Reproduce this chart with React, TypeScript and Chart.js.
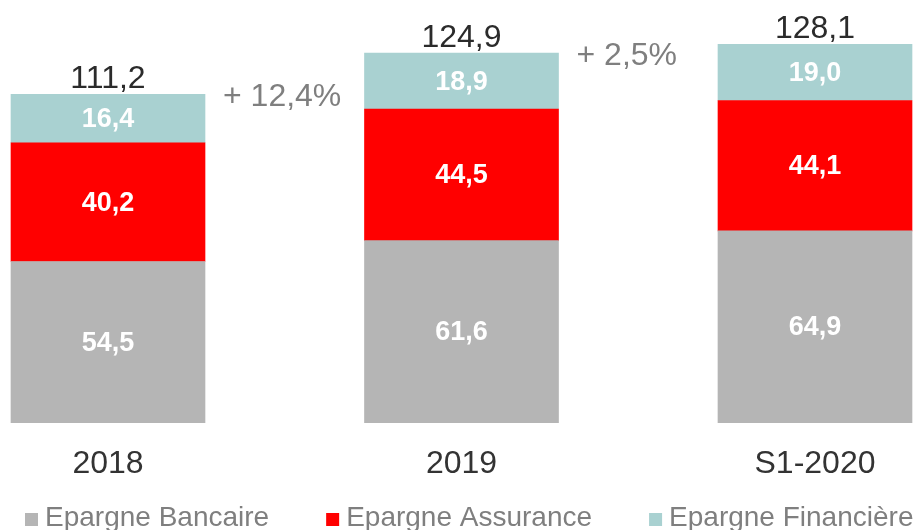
import React, { useEffect, useRef } from "react";
import { Chart, registerables } from "chart.js";

Chart.register(...registerables);

const categories = ["2018", "2019", "S1-2020"];
const bancaire = [54.5, 61.6, 64.9];
const assurance = [40.2, 44.5, 44.1];
const financiere = [16.4, 18.9, 19.0];
const totals = ["111,2", "124,9", "128,1"];
const growth = ["+ 12,4%", "+ 2,5%"];
const seriesNames = ["Epargne Bancaire", "Epargne Assurance", "Epargne Financière"];
const seriesColors = ["#b5b5b5", "#ff0000", "#a9d1d1"];

const FONT = "'Liberation Sans', Arial, sans-serif";

const fmt = (v: number) => v.toFixed(1).replace(".", ",");

const labelsPlugin = {
  id: "customLabels",
  afterDatasetsDraw(chart: any) {
    const ctx = chart.ctx;
    ctx.save();
    // segment values
    ctx.textAlign = "center";
    ctx.textBaseline = "middle";
    ctx.font = `bold 27px ${FONT}`;
    ctx.fillStyle = "#ffffff";
    chart.data.datasets.forEach((ds: any, i: number) => {
      const meta = chart.getDatasetMeta(i);
      meta.data.forEach((el: any, j: number) => {
        const cy = (el.y + el.base) / 2 + 1;
        ctx.fillText(fmt(ds.data[j]), el.x, cy);
      });
    });
    // totals
    const topMeta = chart.getDatasetMeta(chart.data.datasets.length - 1);
    ctx.font = `32px ${FONT}`;
    ctx.fillStyle = "#2b2b2b";
    ctx.textBaseline = "alphabetic";
    topMeta.data.forEach((el: any, j: number) => {
      ctx.fillText(totals[j], el.x, el.y - 6);
    });
    // growth
    ctx.fillStyle = "#7f7f7f";
    ctx.textAlign = "left";
    growth.forEach((g, j) => {
      const el = topMeta.data[j];
      const right = el.x + el.width / 2;
      ctx.fillText(g, right + 18, el.y + 12);
    });
    ctx.restore();
  },
  afterDraw(chart: any) {
    const ctx = chart.ctx;
    ctx.save();
    ctx.font = `28px ${FONT}`;
    ctx.textBaseline = "alphabetic";
    ctx.textAlign = "left";
    const box = 13;
    const gapText = 7;
    const gapItem = 57;
    const baseline = chart.height - 4;
    let x = 25;
    chart.data.datasets.forEach((ds: any) => {
      ctx.fillStyle = ds.backgroundColor;
      ctx.fillRect(x, baseline - box, box, box);
      x += box + gapText;
      ctx.fillStyle = "#7f7f7f";
      ctx.fillText(ds.label, x, baseline);
      x += ctx.measureText(ds.label).width + gapItem;
    });
    ctx.restore();
  },
};

export default function App() {
  const ref = useRef<HTMLCanvasElement | null>(null);
  useEffect(() => {
    if (!ref.current) return;
    const data = [bancaire, assurance, financiere];
    const chart = new Chart(ref.current, {
      type: "bar",
      data: {
        labels: categories,
        datasets: data.map((d, i) => ({
          label: seriesNames[i],
          data: d,
          backgroundColor: seriesColors[i],
          borderWidth: 0,
          barThickness: 194,
          clip: false,
        })) as any,
      },
      options: {
        responsive: false,
        animation: false,
        layout: { padding: { left: 108, right: 99, top: 0, bottom: 25 } },
        plugins: {
          legend: { display: false },
          tooltip: { enabled: false },
        },
        scales: {
          x: {
            type: "category",
            stacked: true,
            offset: false,
            grid: { display: false, drawTicks: false },
            border: { display: false },
            ticks: {
              color: "#333333",
              font: { family: FONT, size: 32 },
              padding: 22,
              maxRotation: 0,
              autoSkip: false,
            },
          },
          y: {
            display: false,
            stacked: true,
            min: 0,
            max: 143,
          },
        },
      } as any,
      plugins: [labelsPlugin],
    });
    return () => chart.destroy();
  }, []);
  return (
    <div style={{ position: "fixed", left: 0, top: 0, width: 914, height: 530, background: "#ffffff" }}>
      <canvas ref={ref} width={914} height={530} style={{ display: "block" }} />
    </div>
  );
}
